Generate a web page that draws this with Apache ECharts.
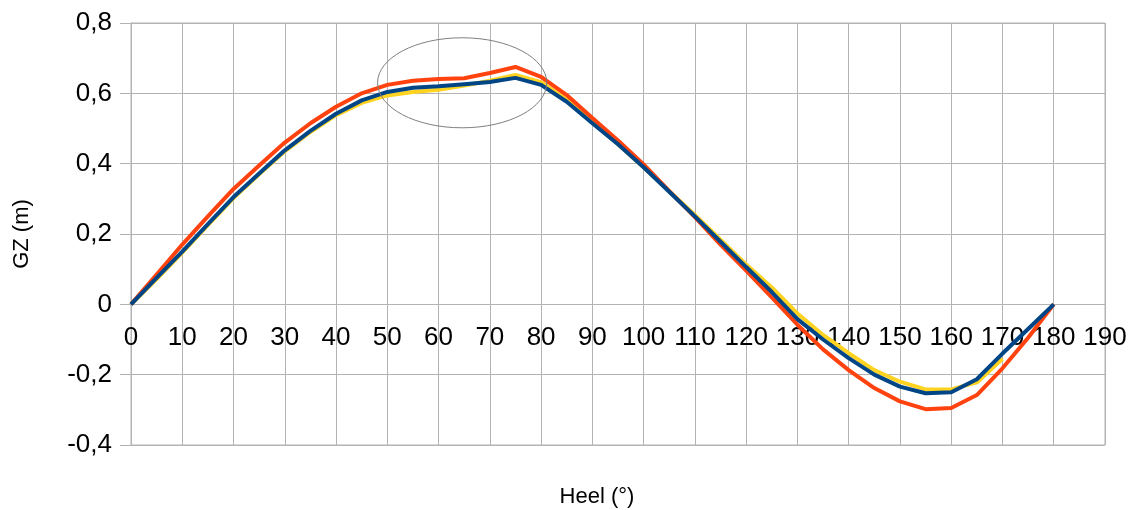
<!DOCTYPE html>
<html>
<head>
<meta charset="utf-8">
<script src="https://cdn.jsdelivr.net/npm/echarts@6/dist/echarts.min.js"></script>
<style>
  html, body { margin: 0; padding: 0; background: #fff; }
  #chart { width: 1134px; height: 510px; }
</style>
</head>
<body>
<div id="chart"></div>
<script>
// heel angles (deg)
const heel = [0, 5, 10, 15, 20, 25, 30, 35, 40, 45, 50, 55, 60, 65, 70, 75, 80, 85, 90,
  95, 100, 105, 110, 115, 120, 125, 130, 135, 140, 145, 150, 155, 160, 165, 170, 175, 180]

// GZ (m) per curve
const gzYellow = [0, 0.072, 0.147, 0.225, 0.302, 0.37, 0.435, 0.49, 0.538, 0.573, 0.594, 0.604, 0.61,
  0.622, 0.636, 0.652, 0.632, 0.582, 0.518, 0.456, 0.39, 0.322, 0.254, 0.184, 0.113, 0.048, -0.026,
  -0.087, -0.139, -0.187, -0.22, -0.242, -0.242, -0.222, -0.155]
const gzRed = [0, 0.085, 0.17, 0.25, 0.328, 0.395, 0.46, 0.515, 0.562, 0.6, 0.624, 0.636, 0.641,
  0.643, 0.658, 0.675, 0.647, 0.595, 0.53, 0.466, 0.398, 0.322, 0.248, 0.17, 0.096, 0.02, -0.058,
  -0.128, -0.187, -0.238, -0.276, -0.298, -0.295, -0.258, -0.182, -0.095, 0]
const gzBlue = [0, 0.075, 0.15, 0.228, 0.305, 0.372, 0.438, 0.493, 0.542, 0.58, 0.604, 0.616, 0.62,
  0.626, 0.632, 0.644, 0.624, 0.576, 0.515, 0.455, 0.39, 0.32, 0.25, 0.178, 0.106, 0.035, -0.042,
  -0.1, -0.153, -0.2, -0.234, -0.253, -0.25, -0.213, -0.14, -0.07, 0]

// highlighted region (data coords): centre and half sizes
const markCenter = [64.6, 0.63]
const markHalf = [16.5, 0.128]

const yMin = -0.4
const yMax = 0.8

const pairs = (ys) => ys.map((y, i) => [heel[i], y])
const fmt = (v) => Math.abs(v) < 1e-9 ? '0' : (Math.round(v * 10) / 10).toFixed(1).replace('.', ',')

const gridColor = '#b3b3b3'
const font = 'Liberation Sans, Arial, sans-serif'

const chartH = 510, gridTop = 23, gridBottom = 65
const plotH = chartH - gridTop - gridBottom
// move the x axis up from the bottom edge to y = 0
const zeroOffset = -plotH * (0 - yMin) / (yMax - yMin)

const option = {
  animation: false,
  backgroundColor: '#fff',
  grid: {
    left: 131, right: 29, top: gridTop, bottom: gridBottom,
    containLabel: false,
    outerBoundsMode: 'none',
    show: true, borderColor: gridColor, borderWidth: 1
  },
  xAxis: {
    type: 'value',
    min: 0, max: 190, interval: 10,
    position: 'bottom',
    offset: zeroOffset,
    name: 'Heel (°)',
    nameLocation: 'middle',
    nameGap: 182,
    nameTextStyle: { fontSize: 22, color: '#000', fontFamily: font, padding: [0, 42, 0, 0] },
    axisLine: { onZero: false, lineStyle: { color: gridColor } },
    axisTick: { show: true, length: 10, lineStyle: { color: gridColor } },
    axisLabel: { fontSize: 26, color: '#000', fontFamily: font, margin: 20 },
    splitLine: { show: true, lineStyle: { color: gridColor } }
  },
  yAxis: {
    type: 'value',
    min: yMin, max: yMax, interval: 0.2,
    name: 'GZ (m)',
    nameLocation: 'middle',
    nameGap: 98,
    nameTextStyle: { fontSize: 22, color: '#000', fontFamily: font },
    axisLine: { show: true, onZero: false, lineStyle: { color: gridColor } },
    axisTick: { show: true, length: 11, lineStyle: { color: gridColor } },
    axisLabel: { fontSize: 26, color: '#000', fontFamily: font, margin: 19, formatter: fmt },
    splitLine: { show: true, lineStyle: { color: gridColor } }
  },
  series: [
    { type: 'line', data: pairs(gzYellow), showSymbol: false, lineStyle: { color: '#ffd320', width: 4 }, itemStyle: { color: '#ffd320' } },
    { type: 'line', data: pairs(gzRed), showSymbol: false, lineStyle: { color: '#ff420e', width: 4 }, itemStyle: { color: '#ff420e' } },
    { type: 'line', data: pairs(gzBlue), showSymbol: false, lineStyle: { color: '#004586', width: 4 }, itemStyle: { color: '#004586' } }
  ]
}

const chart = echarts.init(document.getElementById('chart'))
chart.setOption(option)

// ellipse annotation around the peak
const c = chart.convertToPixel({ gridIndex: 0 }, markCenter)
const e = chart.convertToPixel({ gridIndex: 0 }, [markCenter[0] + markHalf[0], markCenter[1] + markHalf[1]])
chart.setOption({
  graphic: [{
    type: 'ellipse',
    shape: { cx: c[0], cy: c[1], rx: Math.abs(e[0] - c[0]), ry: Math.abs(e[1] - c[1]) },
    style: { fill: 'none', stroke: '#808080', lineWidth: 1 },
    z: 100
  }]
})
</script>
</body>
</html>
